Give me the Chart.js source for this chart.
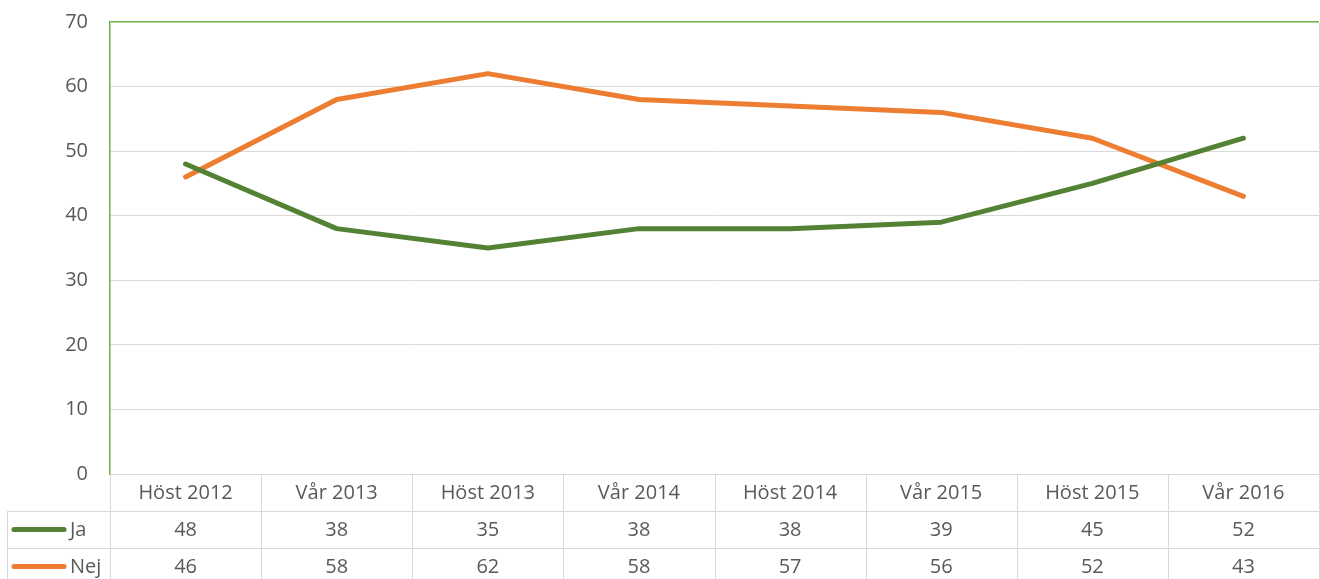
<!DOCTYPE html>
<html>
<head>
<meta charset="utf-8">
<script src="https://cdn.jsdelivr.net/npm/chart.js@4/dist/chart.umd.min.js"></script>
<style>
  html, body { margin: 0; padding: 0; background: #fff; }
  #wrap { width: 1320px; height: 579px; }
</style>
</head>
<body>
<div id="wrap"><canvas id="chart" width="1320" height="579"></canvas></div>
<script>
// Data
const categories = ['Höst 2012', 'Vår 2013', 'Höst 2013', 'Vår 2014', 'Höst 2014', 'Vår 2015', 'Höst 2015', 'Vår 2016'];
const jaValues = [48, 38, 35, 38, 38, 39, 45, 52];
const nejValues = [46, 58, 62, 58, 57, 56, 52, 43];
const seriesNames = ['Ja', 'Nej'];

const GREEN = '#548235';
const ORANGE = '#ED7D31';
const AXIS_GREEN = '#70AD47';
const GRID = '#d9d9d9';
const TEXT = '#595959';
const FONT = '"Open Sans", "DejaVu Sans", sans-serif';
const ROW_H = 37;

// Tabell under diagrammet (rubriker + värden + förklaringslinjer)
const dataTablePlugin = {
    id: 'dataTable',
    afterDraw(chart) {
        const ctx = chart.ctx;
        const area = chart.chartArea;
        const xs = chart.scales.x;
        const n = categories.length;
        const colW = (area.right - area.left) / n;
        const top = area.bottom;
        const tableLeft = 7;
        const bottom = chart.height + 10;

        ctx.save();
        ctx.strokeStyle = GRID;
        ctx.lineWidth = 1;

        // högerkant på ritytan
        ctx.beginPath();
        ctx.moveTo(Math.round(area.right) + 0.5, area.top + 1);
        ctx.lineTo(Math.round(area.right) + 0.5, top);
        // horisontella linjer
        ctx.moveTo(area.left, top + 0.5);
        ctx.lineTo(area.right, top + 0.5);
        for (let r = 1; r <= 2; r++) {
            const y = Math.round(top + r * ROW_H) + 0.5;
            ctx.moveTo(tableLeft, y);
            ctx.lineTo(area.right, y);
        }
        // vertikala linjer
        for (let i = 0; i <= n; i++) {
            const x = Math.round(area.left + i * colW) + 0.5;
            ctx.moveTo(x, top);
            ctx.lineTo(x, bottom);
        }
        ctx.moveTo(tableLeft + 0.5, top + ROW_H);
        ctx.lineTo(tableLeft + 0.5, bottom);
        ctx.stroke();

        ctx.font = '20px ' + FONT;
        ctx.fillStyle = TEXT;
        ctx.textAlign = 'center';
        ctx.textBaseline = 'middle';

        const rows = [jaValues, nejValues];
        categories.forEach((cat, i) => {
            const cx = xs.getPixelForValue(i);
            ctx.fillText(cat, cx, top + ROW_H / 2 + 1);
            rows.forEach((vals, r) => {
                ctx.fillText(String(vals[i]), cx, top + ROW_H * (r + 1.5) + 1);
            });
        });

        // förklaring i tabellens första kolumn
        const colors = [GREEN, ORANGE];
        ctx.textAlign = 'left';
        seriesNames.forEach((name, r) => {
            const y = top + ROW_H * (r + 1.5);
            ctx.strokeStyle = colors[r];
            ctx.lineWidth = 5;
            ctx.lineCap = 'round';
            ctx.beginPath();
            ctx.moveTo(14, y);
            ctx.lineTo(64, y);
            ctx.stroke();
            ctx.fillStyle = TEXT;
            ctx.fillText(name, 70, y + 1);
        });
        ctx.restore();
    }
};

new Chart(document.getElementById('chart'), {
    type: 'line',
    data: {
        labels: categories,
        datasets: [
            {
                label: seriesNames[0],
                data: jaValues,
                borderColor: GREEN,
                backgroundColor: GREEN,
                borderWidth: 5,
                pointRadius: 0,
                borderCapStyle: 'round',
                borderJoinStyle: 'round',
                tension: 0
            },
            {
                label: seriesNames[1],
                data: nejValues,
                borderColor: ORANGE,
                backgroundColor: ORANGE,
                borderWidth: 5,
                pointRadius: 0,
                borderCapStyle: 'round',
                borderJoinStyle: 'round',
                tension: 0
            }
        ]
    },
    options: {
        responsive: false,
        animation: false,
        layout: { padding: { top: 22, right: 1, bottom: 105, left: 0 } },
        plugins: {
            legend: { display: false },
            tooltip: { enabled: false }
        },
        scales: {
            x: {
                type: 'category',
                offset: true,
                display: false
            },
            y: {
                min: 0,
                max: 70,
                afterFit(scale) {
                    scale.width = 110;
                    scale.paddingTop = 0;
                    scale.paddingBottom = 0;
                },
                ticks: {
                    stepSize: 10,
                    padding: 22,
                    color: TEXT,
                    font: { size: 20, family: FONT }
                },
                grid: {
                    drawTicks: false,
                    color: ctx => (ctx.tick && ctx.tick.value === 70) ? AXIS_GREEN : GRID,
                    lineWidth: ctx => (ctx.tick && ctx.tick.value === 70) ? 1.5 : 1
                },
                border: { color: AXIS_GREEN, width: 1.5 }
            }
        }
    },
    plugins: [dataTablePlugin]
});
</script>
</body>
</html>
